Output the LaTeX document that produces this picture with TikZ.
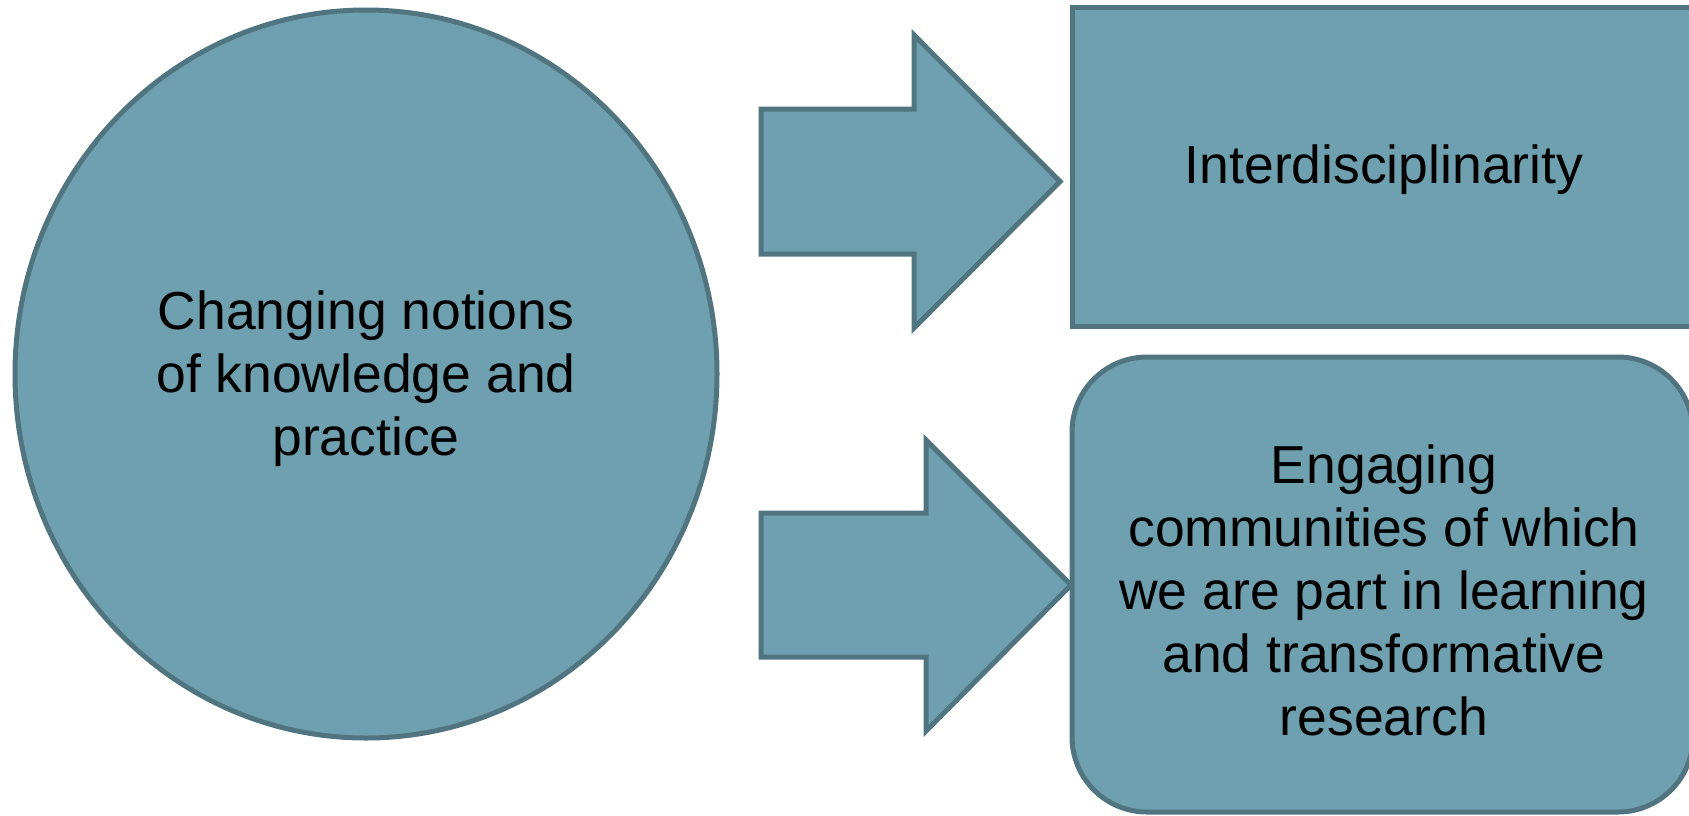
\documentclass[tikz,border=0pt]{standalone}
\usepackage{fontspec}
\setmainfont{Liberation Sans}
\definecolor{fillc}{RGB}{110,160,175}
\definecolor{linec}{RGB}{80,117,128}
\tikzset{
  shapestyle/.style={fill=fillc, draw=linec, line width=5pt, line join=miter},
  lbl/.style={align=center, text=black, font=\fontsize{53.5}{63}\selectfont, inner sep=0pt}
}
\begin{document}
\begin{tikzpicture}[x=1pt,y=-1pt]
\useasboundingbox (0,0) rectangle (1689,815);
\begin{scope}
\clip (0,0) rectangle (1689,815);
% circle
\draw[shapestyle] (366,374) ellipse [x radius=351, y radius=364];
\node[lbl] (c) at (366,379) {Changing notions\\of knowledge and\\practice};
% top arrow
\draw[shapestyle] (761,109) -- (914,109) -- (914,35) -- (1060,181.5) -- (914,328) -- (914,254) -- (761,254) -- cycle;
% bottom arrow
\draw[shapestyle] (761,513) -- (926,513) -- (926,440) -- (1071,585) -- (926,731) -- (926,657) -- (761,657) -- cycle;
% top rectangle
\draw[shapestyle] (1072,7) rectangle (1693,326);
\node[lbl] (r1) at (1384,170) {Interdisciplinarity};
% rounded rectangle
\draw[shapestyle, rounded corners=75pt] (1072,357) rectangle (1693,812);
\node[lbl] (r2) at (1384,590) {Engaging\\communities of which\\we are part in learning\\and transformative\\research};
\end{scope}
\end{tikzpicture}
\end{document}
